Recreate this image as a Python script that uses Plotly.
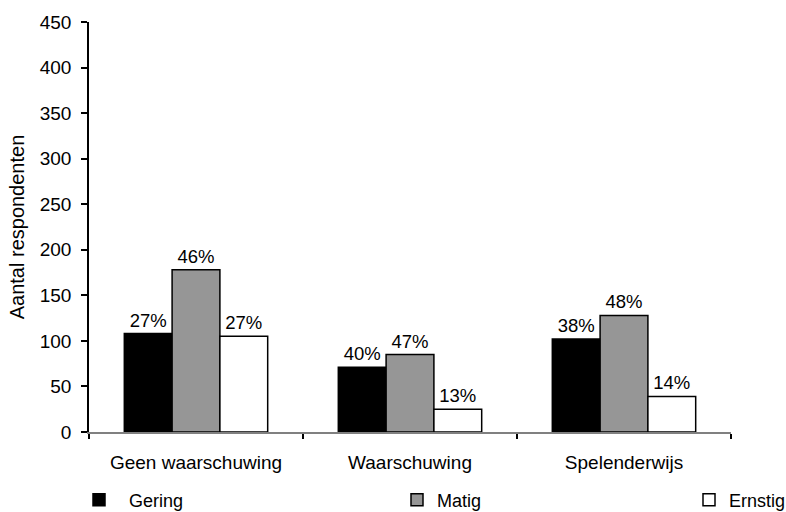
import plotly.graph_objects as go

categories = ["Geen waarschuwing", "Waarschuwing", "Spelenderwijs"]
series_names = ["Gering", "Matig", "Ernstig"]
gering = [108, 71, 102]
matig = [178, 85, 128]
ernstig = [105, 25, 39]
gering_pct = ["27%", "40%", "38%"]
matig_pct = ["46%", "47%", "48%"]
ernstig_pct = ["27%", "13%", "14%"]
y_ticks = [0, 50, 100, 150, 200, 250, 300, 350, 400, 450]

FONT = "Liberation Sans, Arial, sans-serif"
colors = ["#000000", "#969696", "#ffffff"]
values = [gering, matig, ernstig]
pcts = [gering_pct, matig_pct, ernstig_pct]
legends = ["legend", "legend2", "legend3"]
legend_names = ["\u00a0\u00a0Gering", "Matig", "Ernstig"]

fig = go.Figure()
for name, lname, vals, pc, col, lg in zip(series_names, legend_names, values, pcts, colors, legends):
    fig.add_trace(go.Bar(
        x=categories, y=vals, name=lname,
        marker=dict(color=col, line=dict(color="#000000", width=1.5)),
        text=pc, textposition="outside", cliponaxis=False,
        textfont=dict(family=FONT, size=18.5, color="#000000"),
        legend=lg,
    ))

W, H = 786, 512
L, R, T, B = 89, W - 731, 22, H - 432
pw = W - L - R

def px2paper(px):
    return (px - L) / pw

legend_common = dict(orientation="h", yanchor="middle", y=-0.166, xanchor="left",
                     font=dict(family=FONT, size=18, color="#000000"),
                     bgcolor="rgba(0,0,0,0)", borderwidth=0, itemwidth=30)

fig.update_layout(
    width=W, height=H,
    margin=dict(l=L, r=R, t=T, b=B, autoexpand=False),
    paper_bgcolor="#ffffff", plot_bgcolor="#ffffff",
    barmode="group", bargap=0.33, bargroupgap=0,
    font=dict(family=FONT, size=19, color="#000000"),
    showlegend=True,
    legend=dict(legend_common, x=px2paper(79)),
    legend2=dict(legend_common, x=px2paper(397)),
    legend3=dict(legend_common, x=px2paper(689)),
    xaxis=dict(
        showline=True, linecolor="#808080", linewidth=1.5,
        ticks="outside", tickson="boundaries", ticklen=5, tickcolor="#000000", tickwidth=1.5,
        showgrid=False, zeroline=False, automargin=False,
        tickfont=dict(family=FONT, size=19, color="#000000"),
        ticklabelstandoff=12,
    ),
    yaxis=dict(
        range=[0, 450], tickvals=y_ticks, ticktext=[str(v) for v in y_ticks],
        showline=True, linecolor="#000000", linewidth=1.5,
        ticks="outside", ticklen=6, tickcolor="#000000", tickwidth=1.5,
        showgrid=False, zeroline=False, automargin=False,
        tickfont=dict(family=FONT, size=19, color="#000000"),
        ticklabelstandoff=6,
        title=dict(text="Aantal respondenten", font=dict(family=FONT, size=20, color="#000000"), standoff=10),
    ),
)

fig.write_html("out.html", config={"displayModeBar": False},
               post_script="document.body.style.margin='0';document.body.style.overflow='hidden';")
